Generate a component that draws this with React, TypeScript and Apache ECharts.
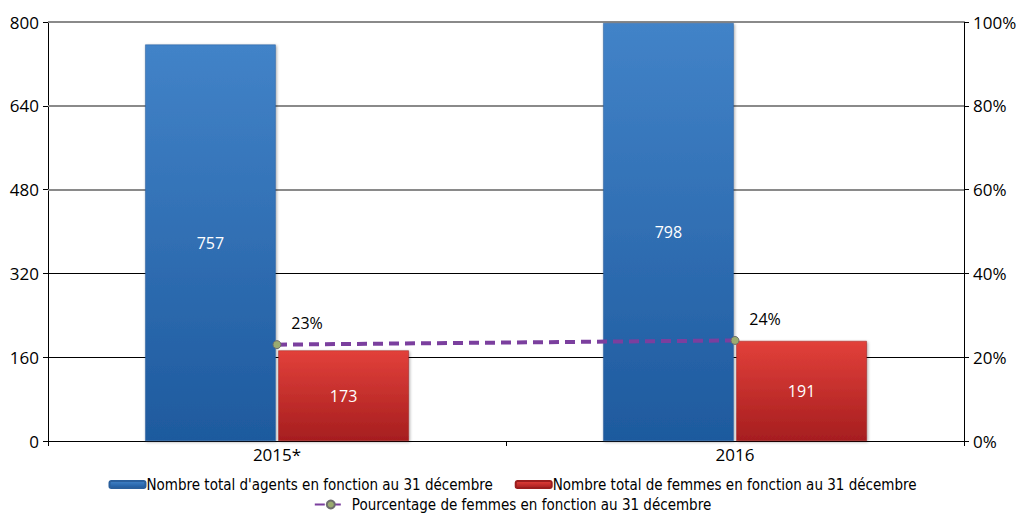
import React, { useEffect, useRef } from "react";
import * as echarts from "echarts";

const categories = ["2015*", "2016"];
const totalAgents = [757, 798];
const totalFemmes = [173, 191];
const pctFemmes = [23, 24];
const leftTicks = { min: 0, max: 800, interval: 160 };
const rightTicks = { min: 0, max: 100, interval: 20 };
const blackGridValues = [160, 320];
const grayGridValues = [480, 640, 800];

const nameAgents = "Nombre total d'agents en fonction au 31 décembre";
const nameFemmes = "Nombre total de femmes en fonction au 31 décembre";
const namePct = "Pourcentage de femmes en fonction au 31 décembre";

const legendFont = "'DejaVu Sans Condensed', 'Liberation Sans Narrow', Roboto, sans-serif";

export default function App() {
  const ref = useRef<HTMLDivElement>(null);
  useEffect(() => {
    if (!ref.current) return;
    const chart = echarts.init(ref.current, null, { renderer: "svg" });
    const blue = new echarts.graphic.LinearGradient(0, 0, 0, 1, [
      { offset: 0, color: "#4283c8" },
      { offset: 1, color: "#1e5a9e" },
    ]);
    const red = new echarts.graphic.LinearGradient(0, 0, 0, 1, [
      { offset: 0, color: "#e2403a" },
      { offset: 1, color: "#a61e1f" },
    ]);
    const axisFont = { fontFamily: "Open Sans", fontSize: 17, color: "#000" };
    const markLineData = [
      ...blackGridValues.map((v) => ({ yAxis: v, lineStyle: { color: "#000", width: 1, type: "solid" } })),
      ...grayGridValues.map((v) => ({ yAxis: v, lineStyle: { color: "#8a8a8a", width: 2, type: "solid" } })),
    ];
    chart.setOption({
      animation: false,
      grid: { left: 48, right: 61, top: 22, bottom: 74, containLabel: false },
      legend: [
        {
          data: [nameAgents, nameFemmes],
          top: 472,
          left: "center",
          itemGap: 22,
          itemWidth: 36,
          itemHeight: 7,
          icon: "roundRect",
          textStyle: { fontFamily: legendFont, fontSize: 15, color: "#000", padding: [0, 0, 0, -4] },
        },
        {
          data: [namePct],
          top: 492,
          left: "center",
          itemWidth: 32,
          itemHeight: 10,
          textStyle: { fontFamily: legendFont, fontSize: 15, color: "#000" },
        },
      ],
      xAxis: {
        type: "category",
        data: categories,
        axisLine: { lineStyle: { color: "#000", width: 1 } },
        axisTick: { show: true, length: 5, lineStyle: { color: "#000" } },
        axisLabel: { ...axisFont, margin: 5 },
      },
      yAxis: [
        {
          type: "value",
          min: leftTicks.min,
          max: leftTicks.max,
          interval: leftTicks.interval,
          axisLine: { show: true, lineStyle: { color: "#000" } },
          axisTick: { show: true, length: 5, lineStyle: { color: "#000" } },
          axisLabel: { ...axisFont, margin: 9 },
          splitLine: { show: false },
        },
        {
          type: "value",
          min: rightTicks.min,
          max: rightTicks.max,
          interval: rightTicks.interval,
          position: "right",
          axisLine: { show: true, lineStyle: { color: "#000" } },
          axisTick: { show: true, length: 5, lineStyle: { color: "#000" } },
          axisLabel: { ...axisFont, margin: 9, formatter: "{value}%" },
          splitLine: { show: false },
        },
      ],
      series: [
        {
          name: nameAgents,
          type: "bar",
          data: totalAgents,
          barWidth: "28.5%",
          barGap: "2%",
          z: 3,
          itemStyle: { color: blue, borderColor: "#2a5f9c", borderWidth: 0.5, shadowColor: "rgba(0,0,0,0.35)", shadowBlur: 3, shadowOffsetX: 1, shadowOffsetY: 1 },
          label: { show: true, position: "inside", color: "#fff", fontFamily: "Open Sans", fontSize: 16 },
          markLine: {
            silent: true,
            symbol: "none",
            label: { show: false },
            z: 1,
            data: markLineData,
          },
        },
        {
          name: nameFemmes,
          type: "bar",
          data: totalFemmes,
          barWidth: "28.5%",
          barGap: "2%",
          z: 3,
          itemStyle: { color: red, borderColor: "#9a1e1e", borderWidth: 0.5, shadowColor: "rgba(0,0,0,0.35)", shadowBlur: 3, shadowOffsetX: 1, shadowOffsetY: 1 },
          label: { show: true, position: "inside", color: "#fff", fontFamily: "Open Sans", fontSize: 16 },
        },
        {
          name: namePct,
          type: "line",
          yAxisIndex: 1,
          data: pctFemmes,
          symbol: "circle",
          symbolSize: 8,
          itemStyle: { color: "#9aab70", borderColor: "#6e6e6e", borderWidth: 1 },
          lineStyle: { color: "#7b3f9e", width: 4, type: [10, 6] },
          label: {
            show: true,
            position: "top",
            offset: [30, -4],
            formatter: "{c}%",
            color: "#000",
            fontFamily: "Open Sans",
            fontSize: 16,
          },
          z: 5,
        },
      ],
    });
    return () => chart.dispose();
  }, []);
  return <div ref={ref} style={{ width: 1025, height: 515, position: "absolute", left: 0, top: 0 }} />;
}
